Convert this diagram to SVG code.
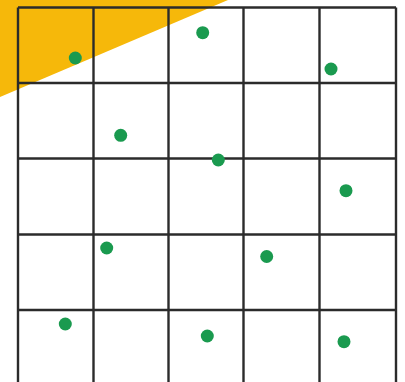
<svg xmlns="http://www.w3.org/2000/svg" width="405" height="382" viewBox="0 0 405 382">
<style>
.g{stroke:#2b2b2b;stroke-width:2.4;fill:none}
.d{fill:#1a9a4f}
</style>
<rect width="405" height="382" fill="#ffffff"/>
<polygon points="0,0 228,0 0,97" fill="#f6b80a"/>
<g id="grid" class="g">
<line x1="18" y1="7.5" x2="18" y2="382"/>
<line x1="93.5" y1="7.5" x2="93.5" y2="382"/>
<line x1="168.5" y1="7.5" x2="168.5" y2="382"/>
<line x1="243.5" y1="7.5" x2="243.5" y2="382"/>
<line x1="319.5" y1="7.5" x2="319.5" y2="382"/>
<line x1="396" y1="7.5" x2="396" y2="382"/>
<line x1="18" y1="7.5" x2="396" y2="7.5"/>
<line x1="18" y1="83" x2="396" y2="83"/>
<line x1="18" y1="158.5" x2="396" y2="158.5"/>
<line x1="18" y1="234.5" x2="396" y2="234.5"/>
<line x1="18" y1="310" x2="396" y2="310"/>
</g>
<g id="dots" class="d">
<circle cx="75.3" cy="58" r="6.5"/>
<circle cx="202.7" cy="32.7" r="6.5"/>
<circle cx="331" cy="69" r="6.5"/>
<circle cx="120.7" cy="135.3" r="6.5"/>
<circle cx="218.3" cy="160" r="6.5"/>
<circle cx="346" cy="190.7" r="6.5"/>
<circle cx="106.7" cy="248" r="6.5"/>
<circle cx="266.7" cy="256.5" r="6.5"/>
<circle cx="65.3" cy="324" r="6.5"/>
<circle cx="207.3" cy="336" r="6.5"/>
<circle cx="344" cy="341.7" r="6.5"/>
</g>
</svg>
